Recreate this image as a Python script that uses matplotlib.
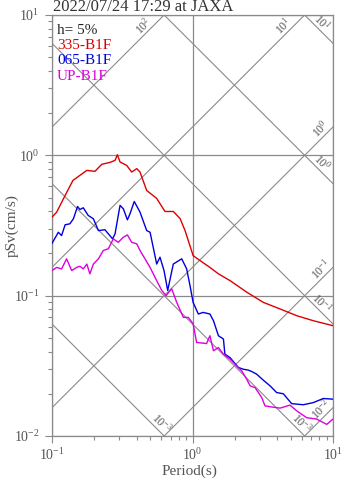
import numpy as np
import matplotlib
matplotlib.use("Agg")
from matplotlib import pyplot as plt
from matplotlib.ticker import LogLocator, NullFormatter

plt.rcParams['font.family'] = ['Liberation Serif', 'DejaVu Serif']
plt.rcParams['mathtext.fontset'] = 'custom'
plt.rcParams['mathtext.rm'] = 'Liberation Serif'
plt.rcParams['mathtext.it'] = 'Liberation Serif:italic'

title = "2022/07/24 17:29 at JAXA"
damping = "h= 5%"

# pseudo velocity response spectra (period s, pSv cm/s)
period_335 = [0.100, 0.108, 0.124, 0.141, 0.158, 0.177, 0.202, 0.226, 0.259, 0.281,
              0.292, 0.305, 0.340, 0.369, 0.401, 0.423, 0.472, 0.556, 0.637, 0.730,
              0.815, 0.885, 1.01, 1.13, 1.33, 1.53, 1.85, 2.43, 3.19, 4.20,
              5.52, 7.24, 10.0]
psv_335 = [0.362, 0.394, 0.518, 0.663, 0.720, 0.781, 0.769, 0.863, 0.891, 0.921,
           1.01, 0.896, 0.848, 0.760, 0.804, 0.760, 0.562, 0.493, 0.398, 0.398,
           0.355, 0.291, 0.193, 0.178, 0.159, 0.143, 0.128, 0.106, 0.0896, 0.0804,
           0.0720, 0.0663, 0.0611]

period_065 = [0.100, 0.111, 0.117, 0.124, 0.134, 0.142, 0.152, 0.158, 0.167, 0.181,
              0.197, 0.214, 0.238, 0.270, 0.281, 0.305, 0.322, 0.344, 0.359, 0.385,
              0.423, 0.472, 0.499, 0.556, 0.587, 0.627, 0.666, 0.730, 0.838, 0.909,
              0.960, 1.01, 1.10, 1.19, 1.33, 1.41, 1.53, 1.66, 1.70, 1.85,
              2.12, 2.30, 2.49, 2.64, 2.86, 3.19, 3.56, 3.97, 4.43, 5.08,
              6.15, 7.24, 8.53, 10.0]
psv_065 = [0.236, 0.283, 0.268, 0.320, 0.325, 0.353, 0.432, 0.411, 0.423, 0.373,
           0.353, 0.291, 0.295, 0.254, 0.276, 0.440, 0.416, 0.347, 0.383, 0.469,
           0.394, 0.291, 0.283, 0.168, 0.188, 0.151, 0.109, 0.168, 0.183, 0.155,
           0.118, 0.0896, 0.0740, 0.0760, 0.0740, 0.0663, 0.0518, 0.0491, 0.0383, 0.0362,
           0.0308, 0.0299, 0.0295, 0.0288, 0.0276, 0.0250, 0.0228, 0.0204, 0.0200, 0.0170,
           0.0167, 0.0173, 0.0185, 0.0183]

period_up = [0.100, 0.108, 0.117, 0.127, 0.138, 0.150, 0.158, 0.167, 0.177, 0.186,
             0.197, 0.214, 0.232, 0.252, 0.273, 0.296, 0.322, 0.344, 0.369, 0.401,
             0.423, 0.459, 0.499, 0.541, 0.604, 0.648, 0.711, 0.772, 0.861, 0.933,
             1.01, 1.07, 1.26, 1.33, 1.41, 1.53, 1.66, 1.85, 2.06, 2.24,
             2.43, 2.57, 2.79, 3.11, 3.28, 3.66, 4.20, 4.94, 5.52, 6.50,
             7.65, 9.02, 10.0]
psv_up = [0.151, 0.159, 0.155, 0.183, 0.151, 0.159, 0.162, 0.155, 0.168, 0.143,
          0.168, 0.183, 0.210, 0.216, 0.254, 0.240, 0.261, 0.271, 0.240, 0.234,
          0.210, 0.183, 0.159, 0.135, 0.109, 0.100, 0.112, 0.0896, 0.0700, 0.0700,
          0.0631, 0.0464, 0.0456, 0.0518, 0.0405, 0.0427, 0.0383, 0.0353, 0.0316, 0.0291,
          0.0254, 0.0228, 0.0221, 0.0188, 0.0164, 0.0161, 0.0158, 0.0166, 0.0151, 0.0135,
          0.0132, 0.0121, 0.0132]

names = ["335-B1F", "065-B1F", "UP-B1F"]
colors = ["#dd0000", "#0000dd", "#dd00dd"]

# tripartite grid: constant acceleration (cm/s2) and displacement (cm)
sa_levels = [1e-2, 1e-1, 1e0, 1e1, 1e2]
sa_texts = ["10$^{-2}$", "10$^{-1}$", "10$^{0}$", "10$^{1}$", "10$^{2}$"]
sd_levels = [1e-3, 1e-2, 1e-1, 1e0, 1e1]
sd_texts = ["10$^{-3}$", "10$^{-3}$", "10$^{-1}$", "10$^{0}$", "10$^{1}$"]

gray = "#8a8a8a"
txt_gray = "#555555"

fig = plt.figure(figsize=(3.47, 4.78), dpi=100)
ax = fig.add_axes([52 / 347, 42 / 478, 281 / 347, 421 / 478])
ax.set_xscale("log")
ax.set_yscale("log")
ax.set_xlim(0.1, 10)
ax.set_ylim(0.01, 10)

tt = np.logspace(-2, 2, 50)
for sa in sa_levels:
    ax.plot(tt, sa * tt / (2 * np.pi), color=gray, lw=0.8, zorder=1)
for sd in sd_levels:
    ax.plot(tt, 2 * np.pi * sd / tt, color=gray, lw=0.8, zorder=1)

# labels sit near where each diagonal leaves the frame
k = 0.72  # px -> pt
for sa, s in zip(sa_levels, sa_texts):
    y_right = 10 * sa / (2 * np.pi)
    if y_right <= 10:
        xe, ye, back = 10, y_right, 10
    else:
        xe, ye, back = 10 * 2 * np.pi / sa, 10, 23
    p = 7
    dx = (-back - p) / np.sqrt(2)
    dy = (-back + p) / np.sqrt(2)
    ax.annotate(s, xy=(xe, ye), xytext=(dx * k, dy * k), textcoords="offset points",
                ha="center", va="center", rotation=45, fontsize=8.5, color=txt_gray)
for sd, s in zip(sd_levels, sd_texts):
    y_right = 2 * np.pi * sd / 10
    if y_right >= 0.01:
        xe, ye, back = 10, y_right, 23
    else:
        xe, ye, back = 2 * np.pi * sd / 0.01, 0.01, 11
    p = 7
    dx = (-back + p) / np.sqrt(2)
    dy = (back + p) / np.sqrt(2)
    ax.annotate(s, xy=(xe, ye), xytext=(dx * k, dy * k), textcoords="offset points",
                ha="center", va="center", rotation=-45, fontsize=8.5, color=txt_gray)

ax.grid(True, which="major", color=gray, lw=0.9, zorder=1)

for per, val, c in zip([period_335, period_065, period_up], [psv_335, psv_065, psv_up], colors):
    ax.plot(per, val, color=c, lw=1.0, zorder=3)

x0 = 5 / 281
ax.text(x0, 0.962, damping, transform=ax.transAxes, fontsize=11, color="#222222", va="center")
for yy, n, c in zip([0.928, 0.891, 0.855], names, colors):
    ax.text(x0, yy, n, transform=ax.transAxes, fontsize=11, color=c, va="center")

ax.xaxis.set_major_locator(LogLocator(base=10, numticks=10))
ax.yaxis.set_major_locator(LogLocator(base=10, numticks=10))
ax.xaxis.set_minor_locator(LogLocator(base=10, subs=np.arange(2, 10), numticks=20))
ax.yaxis.set_minor_locator(LogLocator(base=10, subs=np.arange(2, 10), numticks=20))
ax.xaxis.set_minor_formatter(NullFormatter())
ax.yaxis.set_minor_formatter(NullFormatter())
ax.tick_params(which="major", length=5, width=0.8, color=gray, labelsize=10, labelcolor=txt_gray)
ax.tick_params(which="minor", length=3, width=0.8, color=gray)
ax.tick_params(axis="x", which="major", pad=3)
ax.tick_params(axis="y", which="major", pad=4)
for sp in ax.spines.values():
    sp.set_color(gray)
    sp.set_linewidth(0.9)

ax.set_xlabel("Period(s)", fontsize=11, color=txt_gray, va="center")
ax.xaxis.set_label_coords(0.49, -35 / 421)
ax.set_ylabel("pSv(cm/s)", fontsize=11, color=txt_gray, va="center")
ax.yaxis.set_label_coords(-40 / 281, 0.50)
fig.text(53 / 347, 1 - 7 / 478, title, fontsize=12, color="#333333", va="center", ha="left")

fig.savefig("out.png", dpi=100)
